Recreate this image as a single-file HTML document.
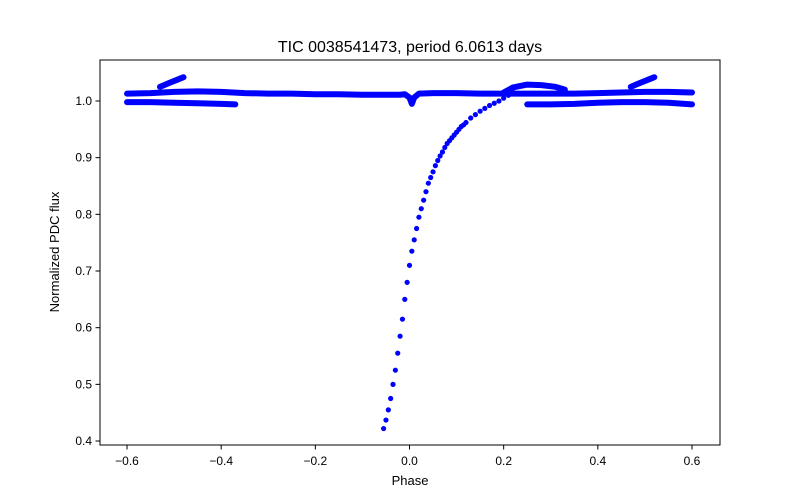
<!DOCTYPE html>
<html><head><meta charset="utf-8"><style>
body{margin:0;background:#fff;}
svg{display:block;font-family:"Liberation Sans","DejaVu Sans",sans-serif;}
</style></head><body>
<svg id="chart" width="800" height="500" viewBox="0 0 800 500">
<rect width="800" height="500" fill="#fff"/>
<text x="410" y="52" font-size="16" text-anchor="middle" fill="#000">TIC 0038541473, period 6.0613 days</text>
<g id="bands"></g>
<g id="dots"></g>
<rect x="100" y="60" width="620" height="385" fill="none" stroke="#000" stroke-width="1"/>
<g id="xticks"></g>
<g id="yticks"></g>
<text x="410" y="485" font-size="13" text-anchor="middle">Phase</text>
<text transform="translate(59,252) rotate(-90)" font-size="13" text-anchor="middle">Normalized PDC flux</text>
</svg>
<script>
const xTicks=[-0.6,-0.4,-0.2,0.0,0.2,0.4,0.6];
const xTickLabels=["\u22120.6","\u22120.4","\u22120.2","0.0","0.2","0.4","0.6"];
const yTicks=[0.4,0.5,0.6,0.7,0.8,0.9,1.0];
const yTickLabels=["0.4","0.5","0.6","0.7","0.8","0.9","1.0"];
// main out-of-eclipse band
const bandAPhase=[-0.6,-0.55,-0.5,-0.45,-0.4,-0.35,-0.3,-0.25,-0.2,-0.15,-0.1,-0.05,-0.02,-0.01,0.0,0.005,0.01,0.02,0.05,0.1,0.15,0.2,0.25,0.3,0.35,0.4,0.45,0.5,0.55,0.6];
const bandAFlux=[1.013,1.014,1.016,1.017,1.016,1.014,1.013,1.013,1.012,1.012,1.011,1.011,1.011,1.012,1.006,0.995,1.006,1.013,1.014,1.014,1.013,1.013,1.013,1.013,1.013,1.014,1.015,1.016,1.016,1.015];
// lower band (left)
const bandBPhase=[-0.6,-0.55,-0.5,-0.45,-0.4,-0.37];
const bandBFlux=[0.998,0.998,0.997,0.996,0.995,0.994];
// lower band (right)
const bandCPhase=[0.25,0.3,0.35,0.4,0.45,0.5,0.55,0.6];
const bandCFlux=[0.994,0.994,0.995,0.997,0.998,0.998,0.997,0.994];
// upper spurs
const spur1Phase=[-0.53,-0.51,-0.495,-0.48];
const spur1Flux=[1.025,1.032,1.037,1.042];
const spur2Phase=[0.47,0.49,0.505,0.52];
const spur2Flux=[1.025,1.032,1.037,1.042];
// arc near 0.2-0.33
const arcPhase=[0.2,0.22,0.25,0.28,0.31,0.33];
const arcFlux=[1.015,1.024,1.029,1.028,1.025,1.02];
// eclipse
const dipPhase=[-0.055,-0.05,-0.045,-0.04,-0.035,-0.03,-0.025,-0.02,-0.015,-0.01,-0.005,0,0.005,0.01,0.015,0.02,0.025,0.03,0.035,0.04,0.045,0.05,0.055,0.06,0.065,0.07,0.075,0.08,0.085,0.09,0.095,0.1,0.105,0.11,0.115,0.12,0.13,0.14,0.15,0.16,0.17,0.18,0.19,0.2,0.21,0.22];
const dipFlux=[0.422,0.437,0.455,0.475,0.50,0.525,0.555,0.585,0.615,0.65,0.68,0.71,0.735,0.755,0.775,0.795,0.81,0.825,0.84,0.855,0.865,0.875,0.886,0.895,0.903,0.91,0.918,0.925,0.93,0.935,0.94,0.945,0.95,0.955,0.958,0.962,0.97,0.976,0.982,0.987,0.992,0.996,1.0,1.005,1.01,1.015];

const NS="http://www.w3.org/2000/svg";
const xS=v=>409.5+v*470.8;
const yS=v=>101+(1.0-v)*566.7;
const bands=document.getElementById('bands');
const dots=document.getElementById('dots');
function band(ph,fl,name){
  const p=document.createElementNS(NS,'polyline');
  
  
  p.setAttribute('points',ph.map((v,i)=>xS(v)+','+yS(fl[i])).join(' '));
  p.setAttribute('fill','none');p.setAttribute('stroke','#0000ff');
  p.setAttribute('stroke-width','6');p.setAttribute('stroke-linecap','round');p.setAttribute('stroke-linejoin','round');
  bands.appendChild(p);
}
band(bandAPhase,bandAFlux,'band-main');
band(bandBPhase,bandBFlux,'band-lower-left');
band(bandCPhase,bandCFlux,'band-lower-right');
band(spur1Phase,spur1Flux,'spur-left');
band(spur2Phase,spur2Flux,'spur-right');
band(arcPhase,arcFlux,'arc-egress');
dipPhase.forEach((v,i)=>{
  const c=document.createElementNS(NS,'circle');
  
  
  c.setAttribute('cx',xS(v));c.setAttribute('cy',yS(dipFlux[i]));c.setAttribute('r','2.6');c.setAttribute('fill','#0000ff');
  dots.appendChild(c);
});
const xt=document.getElementById('xticks');
xTicks.forEach((v,i)=>{
  const l=document.createElementNS(NS,'line');
  
  
  l.setAttribute('x1',xS(v));l.setAttribute('x2',xS(v));l.setAttribute('y1',445);l.setAttribute('y2',449.5);l.setAttribute('stroke','#000');
  xt.appendChild(l);
  const t=document.createElementNS(NS,'text');
  
  
  t.setAttribute('x',xS(v));t.setAttribute('y',465);t.setAttribute('font-size','12');t.setAttribute('text-anchor','middle');
  t.textContent=xTickLabels[i];xt.appendChild(t);
});
const yt=document.getElementById('yticks');
yTicks.forEach((v,i)=>{
  const l=document.createElementNS(NS,'line');
  
  
  l.setAttribute('x1',95.5);l.setAttribute('x2',100);l.setAttribute('y1',yS(v));l.setAttribute('y2',yS(v));l.setAttribute('stroke','#000');
  yt.appendChild(l);
  const t=document.createElementNS(NS,'text');
  
  
  t.setAttribute('x',92);t.setAttribute('y',yS(v)+4);t.setAttribute('font-size','12');t.setAttribute('text-anchor','end');
  t.textContent=yTickLabels[i];yt.appendChild(t);
});
</script>
</body></html>
